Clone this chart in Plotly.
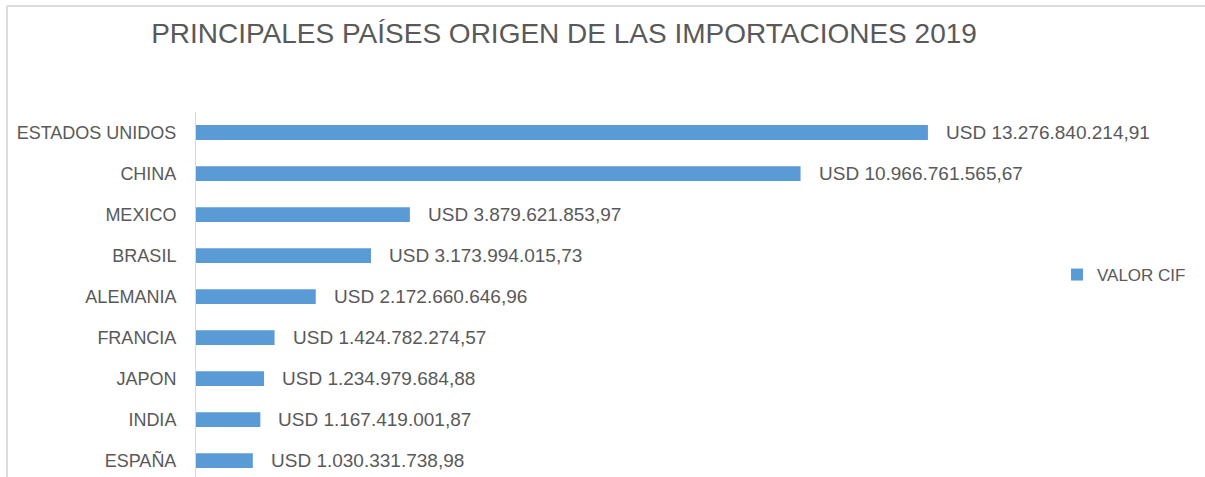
import plotly.graph_objects as go

countries = ["ESTADOS UNIDOS", "CHINA", "MEXICO", "BRASIL", "ALEMANIA",
             "FRANCIA", "JAPON", "INDIA", "ESPAÑA"]
valor_cif = [13276840214.91, 10966761565.67, 3879621853.97, 3173994015.73,
             2172660646.96, 1424782274.57, 1234979684.88, 1167419001.87,
             1030331738.98]
series_name = "VALOR CIF"
title_text = "PRINCIPALES PAÍSES ORIGEN DE LAS IMPORTACIONES 2019"


def fmt(v):
    s = f"{v:,.2f}".replace(",", "X").replace(".", ",").replace("X", ".")
    return "USD " + s


W, H = 1205, 477
L, R, T, B = 196, 149, 112, 0
pw, ph = W - L - R, H - T - B

FONT = "Liberation Sans"
GRAY = "#595959"

fig = go.Figure()
fig.add_trace(go.Bar(
    x=valor_cif, y=countries, orientation="h", name=series_name,
    marker=dict(color="#5b9bd5", line=dict(width=0)),
    width=0.36, showlegend=True,
))

for c, v in zip(countries, valor_cif):
    fig.add_annotation(x=v, y=c, text=fmt(v), showarrow=False,
                       xanchor="left", yanchor="middle", xshift=16,
                       font=dict(family=FONT, size=19, color=GRAY))


def px2x(p):
    return (p - L) / pw


def px2y(p):
    return 1 - (p - T) / ph


# chart-area border (top and left)
fig.add_shape(type="line", xref="paper", yref="paper",
              x0=px2x(7), x1=px2x(W + 5), y0=px2y(6), y1=px2y(6),
              line=dict(color="#dcdcdc", width=2))
fig.add_shape(type="line", xref="paper", yref="paper",
              x0=px2x(7), x1=px2x(7), y0=px2y(6), y1=px2y(H + 5),
              line=dict(color="#dcdcdc", width=2))

fig.update_layout(
    width=W, height=H,
    margin=dict(l=L, r=R, t=T, b=B, pad=0),
    paper_bgcolor="white", plot_bgcolor="white",
    title=dict(text=title_text, x=564 / W, xanchor="center",
               y=1 - 33 / H, yanchor="middle", yref="container",
               font=dict(family=FONT, size=28, color=GRAY)),
    xaxis=dict(range=[0, 15.6e9], visible=False, fixedrange=True),
    yaxis=dict(type="category", categoryorder="array", categoryarray=countries,
               range=[8.4, -0.5], showline=True, linecolor="#d9d9d9",
               linewidth=1, ticks="", showgrid=False, zeroline=False,
               ticklabelstandoff=15,
               tickfont=dict(family=FONT, size=18, color=GRAY)),
    legend=dict(x=px2x(1057), y=px2y(275), xanchor="left", yanchor="middle",
                font=dict(family=FONT, size=17, color=GRAY),
                itemwidth=30, bgcolor="rgba(0,0,0,0)"),
    showlegend=True,
)

fig.write_html("out.html",
               config={"displayModeBar": False},
               post_script="document.body.style.margin='0';"
                           "document.body.style.overflow='hidden';")
